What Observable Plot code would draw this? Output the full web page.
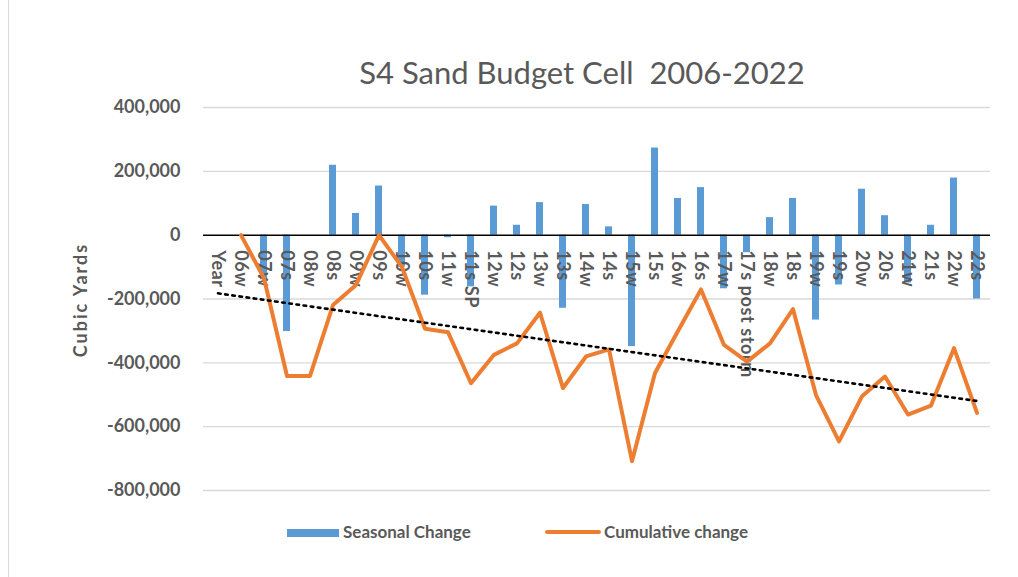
<!DOCTYPE html>
<html><head><meta charset="utf-8">
<script src="https://cdn.jsdelivr.net/npm/d3@7"></script>
<script src="https://cdn.jsdelivr.net/npm/@observablehq/plot@0.6"></script>
<style>
body{margin:0;background:#fff;}
#wrap{position:relative;width:1018px;height:577px;overflow:hidden;background:#fff;font-family:Lato,"Open Sans",sans-serif;color:#595959;}
#frame{position:absolute;left:8px;top:-2px;width:1100px;height:700px;border-left:1px solid #d9d9d9;}
#title{position:absolute;left:0;width:1164px;top:53px;text-align:center;font-size:31px;line-height:38px;white-space:pre;}
#ylab{position:absolute;left:80px;top:300px;transform:translate(-50%,-50%) rotate(-90deg);font-size:18px;letter-spacing:2px;font-weight:bold;white-space:nowrap;}
#chart{position:absolute;left:0;top:0;}
#chart g[aria-label="text"] text{letter-spacing:0.6px;}
.lg{position:absolute;font-size:17px;font-weight:bold;line-height:20px;top:522px;white-space:nowrap;}
</style></head>
<body>
<div id="wrap">
  <div id="frame"></div>
  <div id="chart"></div>
  <div id="title">S4 Sand Budget Cell  2006-2022</div>
  <div id="ylab">Cubic Yards</div>
  <div style="position:absolute;left:287px;top:529px;width:52px;height:8px;background:#5B9BD5"></div>
  <div class="lg" style="left:343px">Seasonal Change</div>
  <div style="position:absolute;left:545px;top:530px;width:56px;height:4px;border-radius:2px;background:#ED7D31"></div>
  <div class="lg" style="left:604px">Cumulative change</div>
</div>
<script>
const categories = ["Year","06w","07w","07s","08w","08s","09w","09s","10w","10s","11w","11s SP","12w","12s","13w","13s","14w","14s","15w","15s","16w","16s","17w","17s post storm","18w","18s","19w","19s","20w","20s","21w","21s","22w","22s"];
const seasonal = [null,0,-140000,-302000,0,219000,68000,154000,-100000,-188000,-8000,-162000,91000,31000,102000,-229000,96000,26000,-349000,273000,115000,149000,-168000,-55000,55000,115000,-266000,-156000,144000,61000,-150000,31000,179000,-200000];
const cumulative = [null,0,-135000,-441000,-441000,-219000,-156000,0,-100000,-293000,-304000,-464000,-375000,-339000,-243000,-479000,-380000,-358000,-708000,-432000,-300000,-170000,-344000,-396000,-339000,-232000,-501000,-646000,-505000,-443000,-562000,-534000,-354000,-557000];
const yTicks = [-800000,-600000,-400000,-200000,0,200000,400000];

const rows = categories.map((c,i)=>({cat:c, idx:i, seasonal:seasonal[i], cum:cumulative[i]}));
const lineRows = rows.filter(r=>r.cum!=null);
// linear trend of cumulative vs category index
const mx = d3.mean(lineRows, r=>r.idx), my = d3.mean(lineRows, r=>r.cum);
const b = d3.sum(lineRows, r=>(r.idx-mx)*(r.cum-my)) / d3.sum(lineRows, r=>(r.idx-mx)**2);
const a = my - b*mx;
const trendRows = [0, categories.length-1].map(i=>({cat:categories[i], v:a+b*i}));

const fmt = d => (d<0?"-":"") + d3.format(",")(Math.abs(d));

const chart = Plot.plot({
  width:1018, height:577,
  marginLeft:203, marginRight:28, marginTop:107, marginBottom:87,
  style:{fontFamily:"Lato, 'Open Sans', sans-serif", fontSize:"18px", fontWeight:"bold", color:"#595959", background:"transparent", overflow:"visible"},
  x:{type:"band", domain:categories, paddingInner:0.7, paddingOuter:0.35, axis:null},
  y:{domain:[-800000,400000]},
  marks:[
    Plot.ruleY(yTicks.filter(d=>d!==0), {stroke:"#d9d9d9", strokeWidth:1.3}),
    Plot.barY(rows.filter(r=>r.seasonal!=null), {x:"cat", y:"seasonal", fill:"#5B9BD5"}),
    Plot.ruleY([0], {stroke:"#000", strokeWidth:1.5}),
    Plot.axisY({ticks:yTicks, tickFormat:fmt, tickSize:0, tickPadding:23, label:null, fill:"#595959", fontSize:18, fontWeight:"bold"}),
    Plot.text(rows, {x:"cat", y:()=>0, text:"cat", rotate:90, textAnchor:"start", lineAnchor:"middle", dy:15, fill:"#595959", fontSize:18, fontWeight:"bold"}),
    Plot.line(lineRows, {x:"cat", y:"cum", stroke:"#ED7D31", strokeWidth:4, strokeLinejoin:"round", strokeLinecap:"round"}),
    Plot.line(trendRows, {x:"cat", y:"v", stroke:"#000", strokeWidth:2.6, strokeDasharray:"2.6,4.6"})
  ]
});
document.getElementById("chart").appendChild(chart);
</script>
</body></html>
